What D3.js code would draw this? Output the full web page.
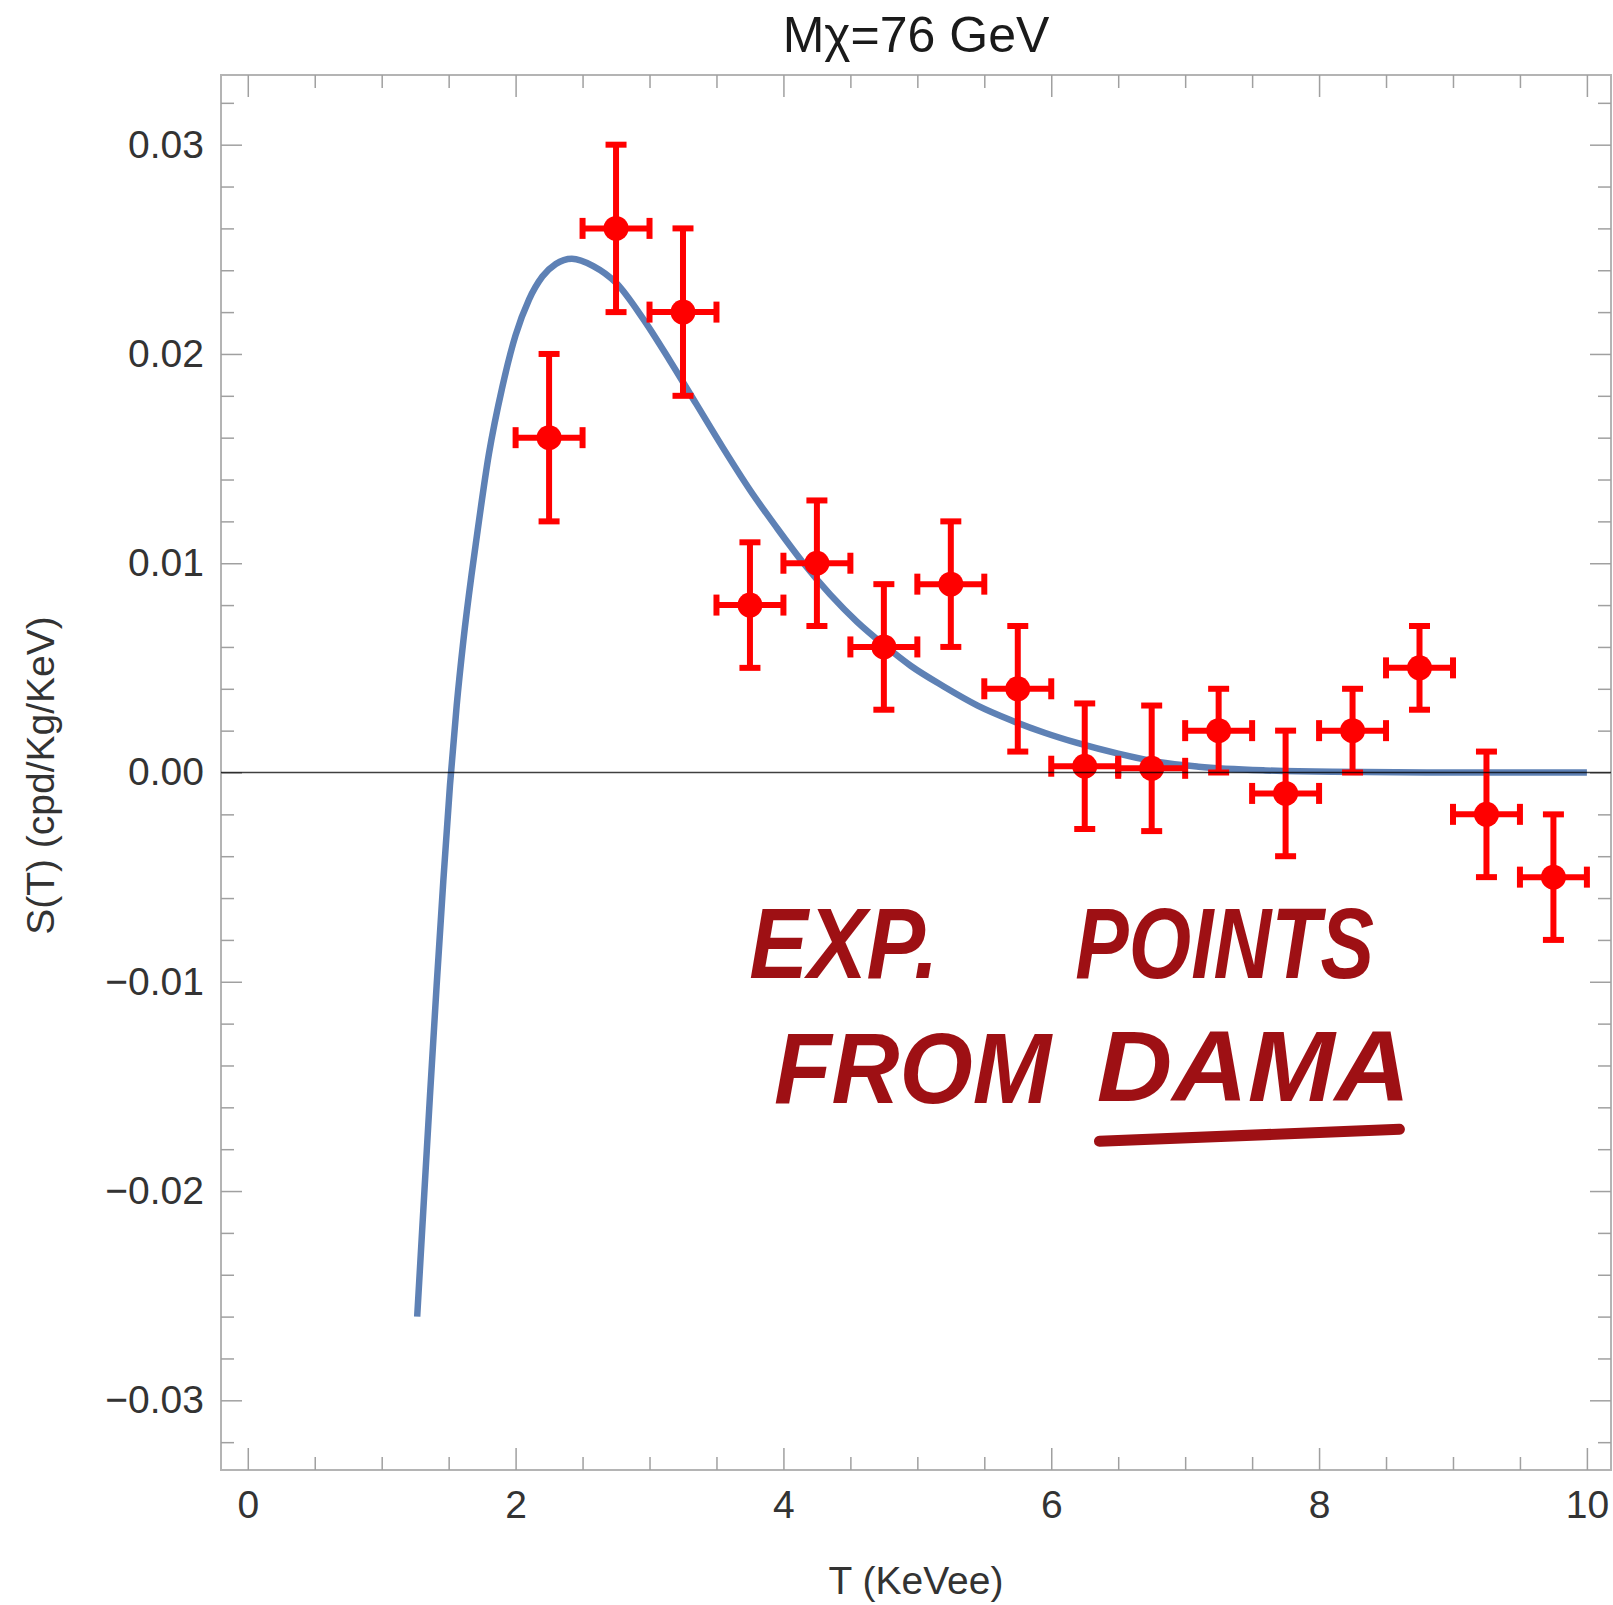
<!DOCTYPE html>
<html>
<head>
<meta charset="utf-8">
<script src="https://cdn.jsdelivr.net/npm/d3@7"></script>
<style>
  body { margin: 0; background: #fff; }
  svg { display: block; }
  .tick text { font-family: "Liberation Sans", Arial, sans-serif; fill: #333; }
</style>
</head>
<body>
<svg id="svg"></svg>
<script>
// tick labels
var xTicks = [0, 2, 4, 6, 8, 10];
var yTicks = [-0.03, -0.02, -0.01, 0, 0.01, 0.02, 0.03];

// DAMA points (T, S, error in S, half bin in T)
var ptT   = [2.25, 2.75, 3.25, 3.75, 4.25, 4.75, 5.25, 5.75, 6.25, 6.75, 7.25, 7.75, 8.25, 8.75, 9.25, 9.75];
var ptS   = [0.016, 0.026, 0.022, 0.008, 0.010, 0.006, 0.009, 0.004, 0.0003, 0.0002, 0.002, -0.001, 0.002, 0.005, -0.002, -0.005];
var ptErr = [0.004, 0.004, 0.004, 0.003, 0.003, 0.003, 0.003, 0.003, 0.003, 0.003, 0.002, 0.003, 0.002, 0.002, 0.003, 0.003];
var ptBin = [0.25, 0.25, 0.25, 0.25, 0.25, 0.25, 0.25, 0.25, 0.25, 0.25, 0.25, 0.25, 0.25, 0.25, 0.25, 0.25];

// model curve
var curveT = [1.265, 1.31, 1.36, 1.41, 1.46, 1.51, 1.56, 1.61, 1.67, 1.70, 1.80, 1.90, 2.00, 2.10, 2.20, 2.30, 2.42,
              2.58, 2.75, 2.95, 3.15, 3.35, 3.55, 3.75, 3.95, 4.15, 4.35, 4.55, 4.75, 4.95, 5.20,
              5.45, 5.70, 5.95, 6.20, 6.50, 6.80, 7.10, 7.60, 8.10, 9.00, 10.0];
var curveS = [-0.0260, -0.0210, -0.0155, -0.0102, -0.0052, -0.0006, 0.0032, 0.0063, 0.0094, 0.0108, 0.0152, 0.0184, 0.0209, 0.0226, 0.0237, 0.0243, 0.02455,
              0.0242, 0.0234, 0.0217, 0.0197, 0.0176, 0.0155, 0.0135, 0.0117, 0.0100, 0.0085, 0.0072, 0.0061, 0.0051, 0.0041,
              0.0032, 0.0025, 0.0019, 0.0014, 0.0009, 0.0005, 0.00028, 0.0001, 0.00003, 0.0, 0.0];

var W = 1613, H = 1605;
var fL = 221, fR = 1611, fT = 75, fB = 1470;

var svg = d3.select("#svg").attr("width", W).attr("height", H);

var x = d3.scaleLinear().domain([-0.2, 10.18]).range([fL, fR]);
var y = d3.scaleLinear().domain([-0.03333, 0.03333]).range([fB, fT]);

// frame
svg.append("rect")
    .attr("x", fL).attr("y", fT)
    .attr("width", fR - fL).attr("height", fB - fT)
    .attr("fill", "none").attr("stroke", "#b4b4b4").attr("stroke-width", 2);

function styleAxis(g) {
    g.select(".domain").remove();
    g.selectAll(".tick line").attr("stroke", "#a0a0a0").attr("stroke-width", 1.5);
}

var xMinor = x.ticks(20).filter(function(d){ return xTicks.indexOf(d) < 0; });
var yMinor = y.ticks(30).filter(function(d){ return yTicks.every(function(t){ return Math.abs(t - d) > 1e-9; }); });

// bottom
svg.append("g").attr("transform", "translate(0," + fB + ")")
    .call(d3.axisBottom(x).tickValues(xTicks).tickSize(-22).tickPadding(20).tickFormat(d3.format("d")))
    .call(styleAxis)
    .selectAll("text").attr("font-size", 39);
svg.append("g").attr("transform", "translate(0," + fB + ")")
    .call(d3.axisBottom(x).tickValues(xMinor).tickSize(-13).tickFormat(""))
    .call(styleAxis);
// top
svg.append("g").attr("transform", "translate(0," + fT + ")")
    .call(d3.axisTop(x).tickValues(xTicks).tickSize(-22).tickFormat(""))
    .call(styleAxis);
svg.append("g").attr("transform", "translate(0," + fT + ")")
    .call(d3.axisTop(x).tickValues(xMinor).tickSize(-13).tickFormat(""))
    .call(styleAxis);
// left
svg.append("g").attr("transform", "translate(" + fL + ",0)")
    .call(d3.axisLeft(y).tickValues(yTicks).tickSize(-21).tickPadding(17).tickFormat(d3.format(".2f")))
    .call(styleAxis)
    .selectAll("text").attr("font-size", 39);
svg.append("g").attr("transform", "translate(" + fL + ",0)")
    .call(d3.axisLeft(y).tickValues(yMinor).tickSize(-13).tickFormat(""))
    .call(styleAxis);
// right
svg.append("g").attr("transform", "translate(" + fR + ",0)")
    .call(d3.axisRight(y).tickValues(yTicks).tickSize(-21).tickFormat(""))
    .call(styleAxis);
svg.append("g").attr("transform", "translate(" + fR + ",0)")
    .call(d3.axisRight(y).tickValues(yMinor).tickSize(-13).tickFormat(""))
    .call(styleAxis);

// model curve
var line = d3.line()
    .x(function(d){ return x(d[0]); })
    .y(function(d){ return y(d[1]); })
    .curve(d3.curveMonotoneX);
svg.append("path")
    .datum(d3.zip(curveT, curveS))
    .attr("d", line)
    .attr("fill", "none")
    .attr("stroke", "#5e81b5")
    .attr("stroke-width", 6.5);

// error bar points
var pts = ptT.map(function(t, i){ return {t: t, s: ptS[i], e: ptErr[i], b: ptBin[i]}; });
var red = "#ff0000", cap = 10.5;
var gp = svg.append("g").attr("stroke", red).attr("stroke-width", 6).attr("fill", red);
var p = gp.selectAll("g").data(pts).enter().append("g");
p.append("line")
    .attr("x1", function(d){ return x(d.t); }).attr("x2", function(d){ return x(d.t); })
    .attr("y1", function(d){ return y(d.s + d.e); }).attr("y2", function(d){ return y(d.s - d.e); });
p.append("line")
    .attr("x1", function(d){ return x(d.t - d.b); }).attr("x2", function(d){ return x(d.t + d.b); })
    .attr("y1", function(d){ return y(d.s); }).attr("y2", function(d){ return y(d.s); });
[1, -1].forEach(function(k){
    p.append("line")
        .attr("x1", function(d){ return x(d.t) - cap; }).attr("x2", function(d){ return x(d.t) + cap; })
        .attr("y1", function(d){ return y(d.s + k * d.e); }).attr("y2", function(d){ return y(d.s + k * d.e); });
    p.append("line")
        .attr("x1", function(d){ return x(d.t + k * d.b); }).attr("x2", function(d){ return x(d.t + k * d.b); })
        .attr("y1", function(d){ return y(d.s) - cap; }).attr("y2", function(d){ return y(d.s) + cap; });
});
p.append("circle")
    .attr("cx", function(d){ return x(d.t); }).attr("cy", function(d){ return y(d.s); })
    .attr("r", 12.5).attr("stroke", "none");

// zero axis line
svg.append("line")
    .attr("x1", fL).attr("x2", fR)
    .attr("y1", y(0)).attr("y2", y(0))
    .attr("stroke", "#000").attr("stroke-opacity", 0.75).attr("stroke-width", 1.6);

// titles
svg.append("text")
    .attr("x", (fL + fR) / 2).attr("y", 52)
    .attr("text-anchor", "middle")
    .attr("font-family", "Liberation Sans, Arial, sans-serif")
    .attr("font-size", 50).attr("fill", "#1a1a1a")
    .text("Mχ=76 GeV");

svg.append("text")
    .attr("x", (fL + fR) / 2).attr("y", 1594)
    .attr("text-anchor", "middle")
    .attr("font-family", "Liberation Sans, Arial, sans-serif")
    .attr("font-size", 39).attr("fill", "#333")
    .text("T (KeVee)");

svg.append("text")
    .attr("transform", "translate(54," + ((fT + fB) / 2 + 3) + ") rotate(-90)")
    .attr("text-anchor", "middle")
    .attr("font-family", "Liberation Sans, Arial, sans-serif")
    .attr("font-size", 39).attr("fill", "#333")
    .text("S(T) (cpd/Kg/KeV)");

// handwritten note, placed in data units
var notes = [
    {text: "EXP.",   t0: 3.745, t1: 5.157, s: -0.0098},
    {text: "POINTS", t0: 6.18,  t1: 8.41,  s: -0.0098},
    {text: "FROM",   t0: 3.93,  t1: 6.00,  s: -0.0158},
    {text: "DAMA",   t0: 6.34,  t1: 8.68,  s: -0.0157}
];
var noteColor = "#9e1014";
svg.append("g").selectAll("text").data(notes).enter().append("text")
    .attr("x", function(d){ return x(d.t0); })
    .attr("y", function(d){ return y(d.s); })
    .attr("textLength", function(d){ return x(d.t1) - x(d.t0); })
    .attr("lengthAdjust", "spacingAndGlyphs")
    .attr("font-family", "Liberation Sans Narrow, Liberation Sans, sans-serif")
    .attr("font-weight", "bold").attr("font-style", "italic")
    .attr("font-size", 100).attr("fill", noteColor)
    .text(function(d){ return d.text; });

svg.append("path")
    .attr("d", "M" + x(6.36) + "," + y(-0.01762) + " L" + x(8.60) + "," + y(-0.01705))
    .attr("stroke", noteColor).attr("stroke-width", 11).attr("stroke-linecap", "round");
</script>
</body>
</html>
